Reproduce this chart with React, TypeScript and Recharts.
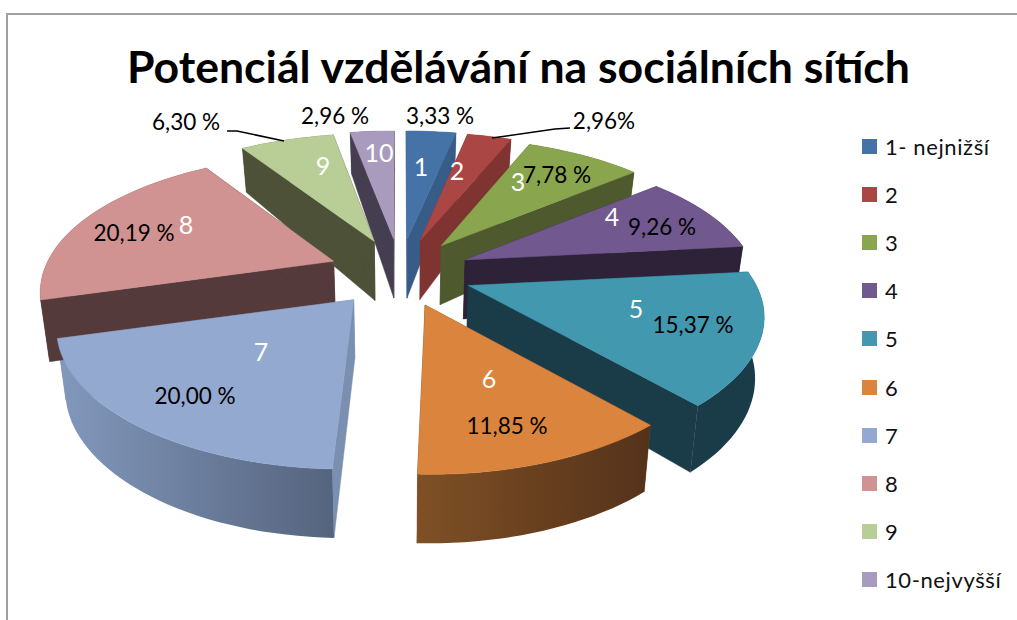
import React from 'react';
import { PieChart, Pie, Legend } from 'recharts';

const legendNames = ['1- nejnižší', '2', '3', '4', '5', '6', '7', '8', '9', '10-nejvyšší'];
const shortNames = ['1', '2', '3', '4', '5', '6', '7', '8', '9', '10'];
const shares = [3.33, 2.96, 7.78, 9.26, 15.37, 11.85, 20.0, 20.19, 6.3, 2.96];
const shareLabels = ['3,33 %', '2,96%', '7,78 %', '9,26 %', '15,37 %', '11,85 %', '20,00 %', '20,19 %', '6,30 %', '2,96 %'];

const topColors = ['#4572A7', '#AA4643', '#89A54E', '#71588F', '#4198AF', '#DB843D', '#93A9CF', '#D19392', '#B9CD96', '#A99BBD'];
const rimColors = ['#375C88', '#7F3432', '#4E5A2E', '#2D2238', '#1A3C49', 'url(#rimOrange)', 'url(#rimBlue)', '#543A3A', '#4C5138', '#453E50'];
const sideColors = ['#375C88', '#7F3432', '#4E5A2E', '#2D2238', '#1A3C49', '#6E4520', '#7B8FB0', '#543A3A', '#4C5138', '#453E50'];

// text placement only, centre of each label
const nameSpots = [[421, 166], [457, 170], [518, 181], [612, 216], [636, 308], [489, 378], [261, 351], [186, 224], [323, 165], [379, 152]];
const shareSpots = [[440, 115], [604, 120], [557, 174], [662, 226], [693, 324], [507, 425], [195, 395], [134, 232], [186, 121], [335, 115]];
const leaders: Record<number, string> = {
    1: 'M570 128 L555 129 L492 138',
    8: 'M227 131 L237 131 L284 141',
};

const chartData = legendNames.map((name, i) => ({ name, value: shares[i], fill: topColors[i] }));

const FONT = 'Lato, sans-serif';
const RIM_HEIGHT = 132;
const PERSPECTIVE_X = 0.185;
const PERSPECTIVE_Y = 0.22;
const EXPLODE_X = 72;
const EXPLODE_Y = 34;
const DEPTH = 59;
const BOTTOM_SHRINK = 0.975;

const rad = (deg: number) => (deg * Math.PI) / 180;

// Sector geometry from the library -> tilted, exploded outline
const outline = (props: any) => {
    const { cx, cy, outerRadius, startAngle, endAngle, midAngle } = props;
    const mid = rad(90 - midAngle);
    const pushX = EXPLODE_X * Math.sin(mid);
    const apex = {
        x: cx + pushX / (1 + 0.055 * Math.cos(mid)),
        y: cy - EXPLODE_Y * Math.cos(mid),
        z: 0,
    };
    const point = (deg: number) => {
        const a = rad(90 - deg);
        const z = -Math.cos(a);
        const kx = 1 / (1 - PERSPECTIVE_X * (z - 0.1 * Math.cos(mid)));
        const ky = 1 / (1 - PERSPECTIVE_Y * z);
        return {
            x: cx + (pushX + outerRadius * Math.sin(a)) * kx,
            y: apex.y + RIM_HEIGHT * z * ky,
            z,
        };
    };
    const rim = [];
    const steps = Math.max(2, Math.ceil(Math.abs(endAngle - startAngle) / 2));
    for (let i = 0; i <= steps; i++) {
        rim.push(point(startAngle + ((endAngle - startAngle) * i) / steps));
    }
    const drop = (p: { x: number; y: number; z: number }) => ({
        x: cx + (p.x - cx) * BOTTOM_SHRINK,
        y: p.y + DEPTH + (p.z > 0 ? 10 : 18) * p.z,
    });
    return { apex, rim, drop };
};

const toPath = (pts: { x: number; y: number }[]) =>
    'M' + pts.map(p => `${p.x.toFixed(1)} ${p.y.toFixed(1)}`).join(' L') + ' Z';

const WallShape = (props: any) => {
    const { apex, rim, drop } = outline(props);
    const i = props.index;
    const first = rim[0];
    const last = rim[rim.length - 1];
    const side = sideColors[i];
    return (
        <g>
            <path d={toPath([apex, first, drop(first), drop(apex)])} fill={side} stroke={side} strokeWidth={0.5} />
            <path d={toPath([apex, last, drop(last), drop(apex)])} fill={side} stroke={side} strokeWidth={0.5} />
            <path d={toPath([...rim, ...rim.map(drop).reverse()])} fill={rimColors[i]} />
        </g>
    );
};

const TopShape = (props: any) => {
    const { apex, rim } = outline(props);
    const color = topColors[props.index];
    return <path d={toPath([apex, ...rim])} fill={color} stroke={color} strokeWidth={0.5} />;
};

const renderLabels = (props: any) => {
    const i = props.index;
    return (
        <g fontFamily={FONT} textAnchor="middle" dominantBaseline="central">
            <text x={nameSpots[i][0]} y={nameSpots[i][1]} fill="#ffffff" fontSize={25}>{shortNames[i]}</text>
            <text x={shareSpots[i][0]} y={shareSpots[i][1]} fill="#000000" fontSize={22.5}>{shareLabels[i]}</text>
            {leaders[i] && <path d={leaders[i]} fill="none" stroke="#000000" strokeWidth={1.5} />}
        </g>
    );
};

const renderLegend = ({ payload }: any) => {
    const rows = (payload || []).filter((entry: any, i: number, all: any[]) => all.findIndex(e => e.value === entry.value) === i);
    return (
        <div>
            {rows.map((entry: any) => (
                <div key={entry.value} style={{ display: 'flex', alignItems: 'center', height: 48.2, fontFamily: FONT, fontSize: 22, letterSpacing: 0.6, color: '#111111' }}>
                    <span style={{ width: 15, height: 15, background: entry.color, marginRight: 8 }} />
                    {entry.value}
                </div>
            ))}
        </div>
    );
};

const App: React.FC = () => (
    <div style={{ position: 'absolute', left: 0, top: 0, width: 1017, height: 620, overflow: 'hidden', background: '#ffffff' }}>
        <div style={{ position: 'absolute', left: 6, top: 13, width: 1011, height: 607, borderTop: '2px solid #a0a0a0', borderLeft: '2px solid #a0a0a0', boxSizing: 'border-box' }} />
        <div style={{ position: 'absolute', left: 0, top: 36, width: 1037, textAlign: 'center', fontFamily: FONT, fontWeight: 700, fontSize: 44.6, lineHeight: '60px', color: '#000000' }}>
            Potenciál vzdělávání na sociálních sítích
        </div>
        <PieChart width={1017} height={620} margin={{ top: 0, right: 0, bottom: 0, left: 0 }} style={{ position: 'absolute', left: 0, top: 0 }}>
            <defs>
                <linearGradient id="rimOrange" x1="0" y1="0" x2="1" y2="0">
                    <stop offset="0%" stopColor="#7F5025" />
                    <stop offset="100%" stopColor="#54321A" />
                </linearGradient>
                <linearGradient id="rimBlue" x1="0" y1="0" x2="1" y2="0">
                    <stop offset="0%" stopColor="#8298BC" />
                    <stop offset="100%" stopColor="#55647E" />
                </linearGradient>
            </defs>
            <Pie
                data={chartData}
                dataKey="value"
                nameKey="name"
                cx={400}
                cy={273}
                outerRadius={287}
                startAngle={90}
                endAngle={-270}
                stroke="none"
                legendType="none"
                shape={WallShape}
                isAnimationActive={false}
            />
            <Pie
                data={chartData}
                dataKey="value"
                nameKey="name"
                cx={400}
                cy={273}
                outerRadius={287}
                startAngle={90}
                endAngle={-270}
                stroke="none"
                shape={TopShape}
                label={renderLabels}
                labelLine={false}
                isAnimationActive={false}
            />
            <Legend layout="vertical" align="right" verticalAlign="top" itemSorter={null} content={renderLegend} wrapperStyle={{ left: 862, top: 122, width: 155 }} />
        </PieChart>
    </div>
);

export default App;
